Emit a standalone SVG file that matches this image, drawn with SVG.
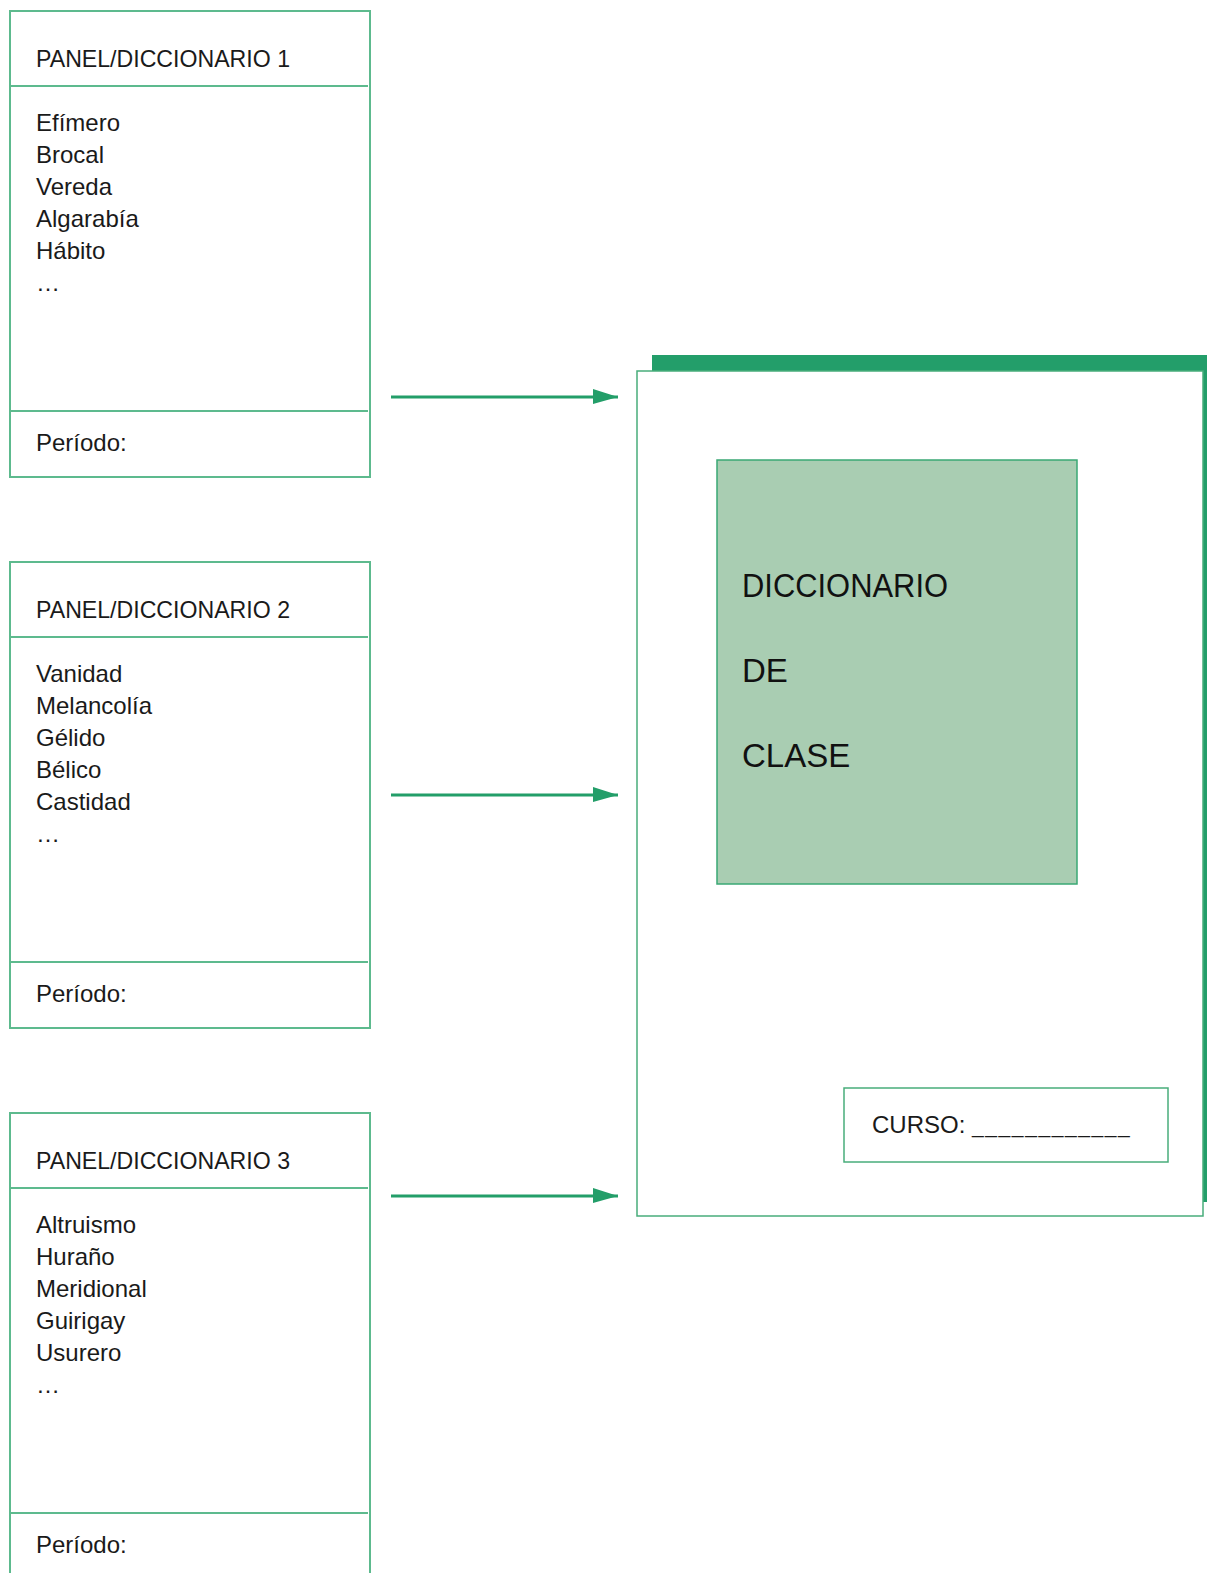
<svg xmlns="http://www.w3.org/2000/svg" width="1207" height="1573" viewBox="0 0 1207 1573">
<style>
.frame{fill:#fff;stroke:#5dba8e;stroke-width:2}
.div{stroke:#5dba8e;stroke-width:2}
.t{font-family:"Liberation Sans",Arial,sans-serif;font-size:24px;fill:#1a1a1a}
.big{font-family:"Liberation Sans",Arial,sans-serif;font-size:33px;fill:#111}
.conn{stroke:#239e69;stroke-width:3;fill:none}
</style>
<defs>
<marker id="ah" markerUnits="userSpaceOnUse" markerWidth="26" markerHeight="16" refX="25" refY="8" orient="auto">
<polygon points="0,0 25,8 0,15" fill="#239e69"/>
</marker>
</defs>
<rect width="1207" height="1573" fill="#fff"/>

<g id="panel1">
<rect class="frame" x="10" y="11" width="360" height="466"/>
<line class="div" x1="10" y1="86" x2="368" y2="86"/>
<line class="div" x1="10" y1="411" x2="368" y2="411"/>
<text class="t" x="36" y="67" textLength="254" lengthAdjust="spacingAndGlyphs">PANEL/DICCIONARIO 1</text>
<text class="t" x="36" y="131">Efímero</text>
<text class="t" x="36" y="163">Brocal</text>
<text class="t" x="36" y="195">Vereda</text>
<text class="t" x="36" y="227">Algarabía</text>
<text class="t" x="36" y="259">Hábito</text>
<text class="t" x="36" y="291">…</text>
<text class="t" x="36" y="451">Período:</text>
</g>

<g id="panel2">
<rect class="frame" x="10" y="562" width="360" height="466"/>
<line class="div" x1="10" y1="637" x2="368" y2="637"/>
<line class="div" x1="10" y1="962" x2="368" y2="962"/>
<text class="t" x="36" y="618" textLength="254" lengthAdjust="spacingAndGlyphs">PANEL/DICCIONARIO 2</text>
<text class="t" x="36" y="682">Vanidad</text>
<text class="t" x="36" y="714">Melancolía</text>
<text class="t" x="36" y="746">Gélido</text>
<text class="t" x="36" y="778">Bélico</text>
<text class="t" x="36" y="810">Castidad</text>
<text class="t" x="36" y="842">…</text>
<text class="t" x="36" y="1002">Período:</text>
</g>

<g id="panel3">
<rect class="frame" x="10" y="1113" width="360" height="480"/>
<line class="div" x1="10" y1="1188" x2="368" y2="1188"/>
<line class="div" x1="10" y1="1513" x2="368" y2="1513"/>
<text class="t" x="36" y="1169" textLength="254" lengthAdjust="spacingAndGlyphs">PANEL/DICCIONARIO 3</text>
<text class="t" x="36" y="1233">Altruismo</text>
<text class="t" x="36" y="1265">Huraño</text>
<text class="t" x="36" y="1297">Meridional</text>
<text class="t" x="36" y="1329">Guirigay</text>
<text class="t" x="36" y="1361">Usurero</text>
<text class="t" x="36" y="1393">…</text>
<text class="t" x="36" y="1553">Período:</text>
</g>

<g id="connectors">
<line class="conn" x1="391" y1="397" x2="618" y2="397" marker-end="url(#ah)"/>
<line class="conn" x1="391" y1="795" x2="618" y2="795" marker-end="url(#ah)"/>
<line class="conn" x1="391" y1="1196" x2="618" y2="1196" marker-end="url(#ah)"/>
</g>

<g id="book">
<rect x="652" y="355" width="555" height="847" fill="#239e6a"/>
<rect x="637" y="371" width="566" height="845" fill="#fff" stroke="#48ad7b" stroke-width="1.5"/>
</g>

<g id="cover">
<rect x="717" y="460" width="360" height="424" fill="#a9cdb2" stroke="#3aa874" stroke-width="1.5"/>
<text class="big" x="742" y="597" textLength="206" lengthAdjust="spacingAndGlyphs">DICCIONARIO</text>
<text class="big" x="742" y="682">DE</text>
<text class="big" x="742" y="767">CLASE</text>
</g>

<g id="curso">
<rect x="844" y="1088" width="324" height="74" fill="#fff" stroke="#48ad7b" stroke-width="1.5"/>
<text class="t" x="872" y="1133">CURSO: <tspan font-size="21" letter-spacing="1.6">____________</tspan></text>
</g>
</svg>
